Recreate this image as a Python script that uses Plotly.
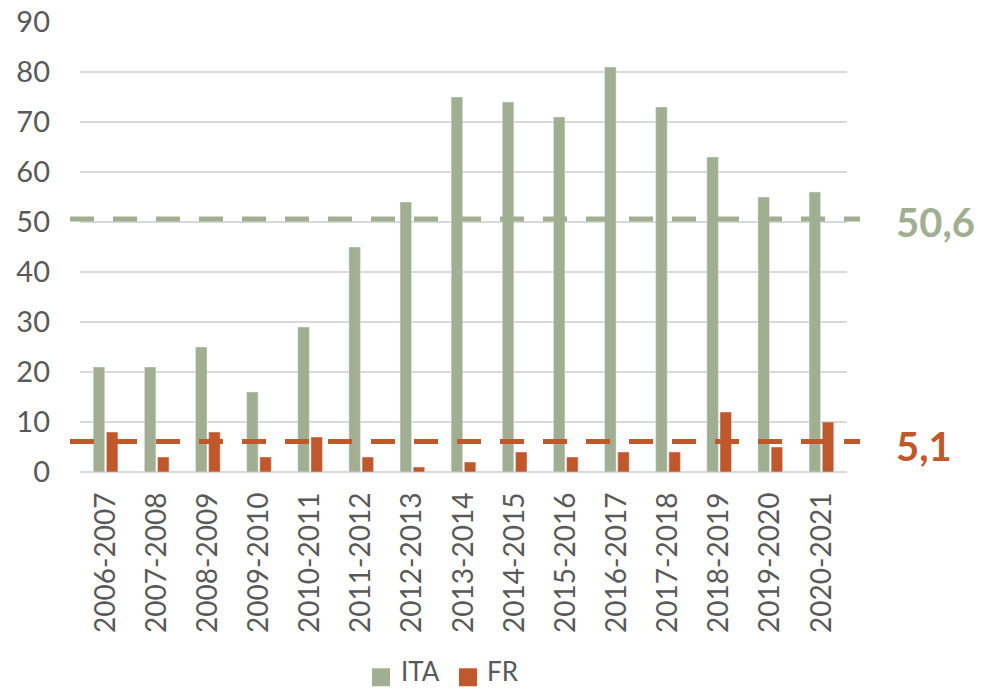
import plotly.graph_objects as go

categories = ["2006-2007", "2007-2008", "2008-2009", "2009-2010", "2010-2011",
              "2011-2012", "2012-2013", "2013-2014", "2014-2015", "2015-2016",
              "2016-2017", "2017-2018", "2018-2019", "2019-2020", "2020-2021"]
ita_values = [21, 21, 25, 16, 29, 45, 54, 75, 74, 71, 81, 73, 63, 55, 56]
fr_values = [8, 3, 8, 3, 7, 3, 1, 2, 4, 3, 4, 4, 12, 5, 10]
ita_avg_line = 50.6
ita_avg_label = "50,6"
fr_avg_line = 6.1
fr_avg_label = "5,1"
y_ticks = [0, 10, 20, 30, 40, 50, 60, 70, 80, 90]
series_names = ["ITA", "FR"]

GREEN = "#A1AE91"
RED = "#C0582C"
TXT = "#595959"
FONT = "Lato"

FW, FH = 986, 689
# plot area in page pixels
L, R, T, B = 80, 847, 21, 472.5
W, H = R - L, B - T
Y_MAX = 90.2


def px_x(px):
    return (px - L) / W


def px_y(py):
    return (B - py) / H


fig = go.Figure()
fig.add_trace(go.Bar(x=categories, y=ita_values, name=series_names[0], marker_color=GREEN, showlegend=False))
fig.add_trace(go.Bar(x=categories, y=fr_values, name=series_names[1], marker_color=RED, showlegend=False))

for val, col in [(ita_avg_line, GREEN), (fr_avg_line, RED)]:
    fig.add_shape(type="line", xref="paper", yref="y", x0=px_x(70), x1=px_x(860), y0=val, y1=val,
                  line=dict(color=col, width=5, dash="24px,19px"), layer="above")

fig.add_annotation(xref="paper", yref="paper", x=px_x(894), y=px_y(222),
                   text=ita_avg_label, showarrow=False, xanchor="left", yanchor="middle",
                   font=dict(family=FONT, size=40, color=GREEN, weight="bold"))
fig.add_annotation(xref="paper", yref="paper", x=px_x(894), y=px_y(446),
                   text=fr_avg_label, showarrow=False, xanchor="left", yanchor="middle",
                   font=dict(family=FONT, size=40, color=RED, weight="bold"))

# custom legend
for name, col, sq_x, tx_x in [(series_names[0], GREEN, 372, 399), (series_names[1], RED, 459, 485)]:
    fig.add_shape(type="rect", xref="paper", yref="paper",
                  x0=px_x(sq_x), x1=px_x(sq_x + 18), y0=px_y(669), y1=px_y(687),
                  fillcolor=col, line=dict(width=0))
    fig.add_annotation(xref="paper", yref="paper", x=px_x(tx_x), y=px_y(672),
                       text=name, showarrow=False, xanchor="left", yanchor="middle",
                       font=dict(family=FONT, size=26, color=TXT))

fig.update_layout(
    width=FW, height=FH,
    margin=dict(l=L, r=FW - R, t=T, b=FH - B),
    paper_bgcolor="white", plot_bgcolor="white",
    barmode="group", bargap=0.485, bargroupgap=0.125,
    font=dict(family=FONT, size=29, color=TXT),
    showlegend=False,
)
fig.update_xaxes(tickangle=-90, showgrid=False, showline=False, ticks="", automargin=False,
                 tickfont=dict(family=FONT, size=28, color=TXT), ticklabelstandoff=14)
fig.update_yaxes(range=[0, Y_MAX], tickvals=y_ticks, showgrid=True, gridcolor="#D9D9D9", gridwidth=1.5,
                 zeroline=True, zerolinecolor="#D9D9D9", zerolinewidth=1.5, showline=False,
                 automargin=False, ticks="", tickfont=dict(family=FONT, size=29, color=TXT),
                 ticklabelstandoff=29, ticklabeloverflow="allow")

fig.write_html("out.html", config={"displayModeBar": False},
               post_script="document.body.style.margin='0';document.body.style.overflow='hidden';")
